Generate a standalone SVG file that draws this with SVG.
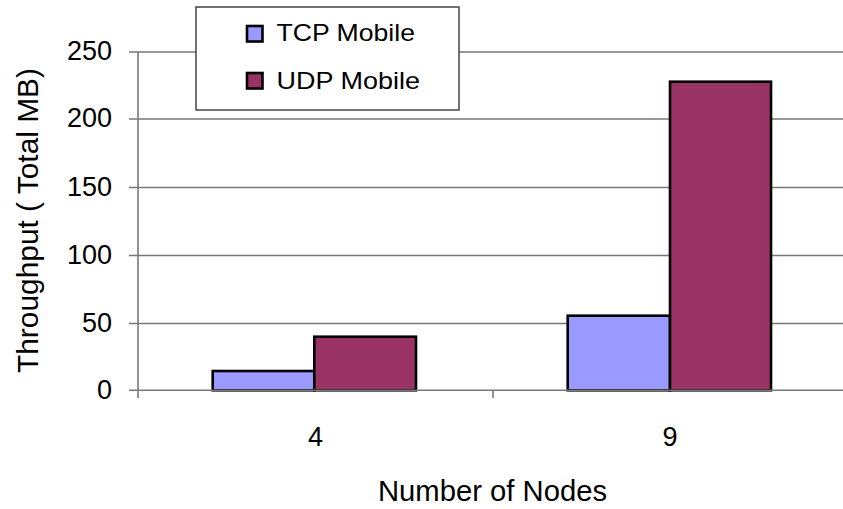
<svg xmlns="http://www.w3.org/2000/svg" width="843" height="509" viewBox="0 0 843 509">
<style>
.grid{stroke:#777;stroke-width:1.6;fill:none}
.axis{stroke:#777;stroke-width:1.6;fill:none}
.tcp{fill:#9999FF;stroke:#000;stroke-width:2.6}
.udp{fill:#993366;stroke:#000;stroke-width:2.6}
.t{font-family:"Liberation Sans",Arial,sans-serif;fill:#000}
.num{font-size:27px}
</style>
<rect x="0" y="0" width="843" height="509" fill="#fff"/>
<g id="gridlines">
<line class="grid" x1="129" y1="52" x2="843" y2="52"/>
<line class="grid" x1="129" y1="119" x2="843" y2="119"/>
<line class="grid" x1="129" y1="187.5" x2="843" y2="187.5"/>
<line class="grid" x1="129" y1="255.5" x2="843" y2="255.5"/>
<line class="grid" x1="129" y1="323.5" x2="843" y2="323.5"/>
</g>
<g id="bars">
<rect class="tcp" x="212.7" y="371" width="101.6" height="19.3"/>
<rect class="udp" x="314.3" y="336.7" width="101.7" height="53.6"/>
<rect class="tcp" x="567.7" y="315.7" width="102.3" height="74.6"/>
<rect class="udp" x="670" y="81.7" width="101" height="308.6"/>
</g>
<g id="axes">
<line class="axis" x1="129" y1="390.3" x2="843" y2="390.3"/>
<line class="axis" x1="138" y1="52" x2="138" y2="398"/>
<line class="axis" x1="493" y1="390.3" x2="493" y2="398"/>
</g>
<g id="y-labels" class="t num" text-anchor="end">
<text x="112" y="60">250</text>
<text x="112" y="127">200</text>
<text x="112" y="195.5">150</text>
<text x="112" y="263.5">100</text>
<text x="112" y="331.5">50</text>
<text x="112" y="398.5">0</text>
</g>
<g id="x-labels" class="t num" text-anchor="middle">
<text x="315.5" y="446">4</text>
<text x="670" y="446">9</text>
</g>
<text id="x-title" class="t" x="492.5" y="501" font-size="29" text-anchor="middle" textLength="229" lengthAdjust="spacingAndGlyphs">Number of Nodes</text>
<text id="y-title" class="t" transform="translate(37.5,220.5) rotate(-90)" font-size="30" text-anchor="middle" textLength="305" lengthAdjust="spacingAndGlyphs">Throughput ( Total MB)</text>
<g id="legend">
<rect x="196" y="7" width="263" height="103" fill="#fff" stroke="#444" stroke-width="1.5"/>
<rect class="tcp" x="247" y="26" width="15.5" height="15.5"/>
<rect class="udp" x="247" y="73" width="15.5" height="15.5"/>
<text class="t" x="276.5" y="40.7" font-size="24.5" textLength="138.5" lengthAdjust="spacingAndGlyphs">TCP Mobile</text>
<text class="t" x="276.5" y="89.3" font-size="24.5" textLength="143.5" lengthAdjust="spacingAndGlyphs">UDP Mobile</text>
</g>
</svg>
